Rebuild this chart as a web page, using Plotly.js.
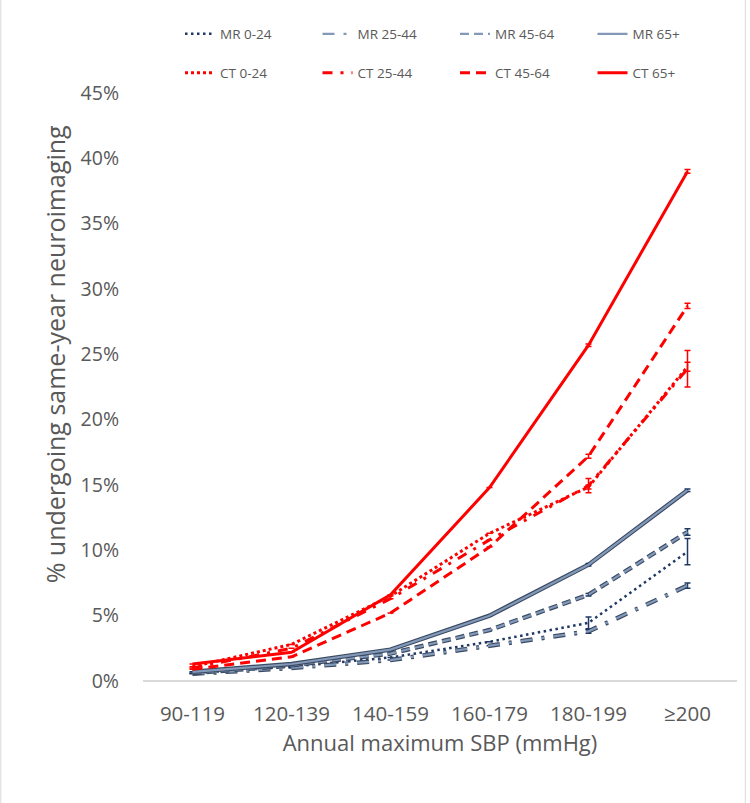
<!DOCTYPE html>
<html>
<head>
<meta charset="utf-8">
<script src="https://cdn.plot.ly/plotly-3.0.1.min.js"></script>
<style>html,body{margin:0;padding:0;background:#fff;}#chart{width:750px;height:803px;}</style>
</head>
<body>
<div id="chart"></div>
<script>
// ---- data ----
var categories = ["90-119", "120-139", "140-159", "160-179", "180-199", "≥200"];
var yTickVals = [0, 5, 10, 15, 20, 25, 30, 35, 40, 45];
var yTickText = ["0%", "5%", "10%", "15%", "20%", "25%", "30%", "35%", "40%", "45%"];
var xTitle = "Annual maximum SBP (mmHg)";
var yTitle = "% undergoing same-year neuroimaging";

var mr0_24  = [0.6, 1.1, 1.8, 3.0, 4.45, 9.9];
var mr25_44 = [0.55, 1.0, 1.6, 2.7, 3.8, 7.3];
var mr45_64 = [0.6, 1.2, 2.1, 3.9, 6.6, 11.4];
var mr65    = [0.7, 1.3, 2.4, 5.0, 8.9, 14.6];
var ct0_24  = [1.1, 2.8, 6.5, 11.3, 14.85, 24.05];
var ct25_44 = [1.0, 2.5, 6.3, 10.8, 14.95, 23.9];
var ct45_64 = [0.9, 1.85, 5.2, 10.25, 17.2, 28.7];
var ct65    = [1.3, 2.2, 6.6, 14.8, 25.7, 39.0];

var mr0_24Err  = [0, 0, 0, 0, 0.45, 1.0];
var mr25_44Err = [0, 0, 0, 0, 0.15, 0.2];
var mr45_64Err = [0, 0, 0, 0, 0.1, 0.25];
var mr65Err    = [0, 0, 0, 0, 0.1, 0.1];
var ct0_24Err  = [0, 0, 0, 0, 0.15, 0.35];
var ct25_44Err = [0, 0, 0, 0, 0.55, 1.4];
var ct45_64Err = [0, 0, 0, 0, 0.15, 0.2];
var ct65Err    = [0, 0, 0, 0, 0.1, 0.15];

// ---- styles ----
var NAVY = "#1f3864", OUTLINE = "#3b4a63", FILL = "#8399b8", RED = "#ff0000";
var DASH_MR25 = "12px,9px,3px,9px";
var DASH_MR45 = "9px,5px";
var DASH_CT25 = "10px,8px,3px,8px";

function err(arr, color) {
  return {type: "data", array: arr, visible: true, color: color, thickness: 1.5, width: 3};
}
function simple(name, y, e, color, dash, width, legend) {
  return {x: categories, y: y, name: name, type: "scatter", mode: "lines",
    line: {color: color, width: width, dash: dash}, error_y: err(e, color), legend: legend};
}
function doubleLine(name, y, e, dash, legend) {
  return [
    {x: categories, y: y, name: name, type: "scatter", mode: "lines", showlegend: false,
      hoverinfo: "skip", line: {color: OUTLINE, width: 4.5, dash: dash}},
    {x: categories, y: y, name: name, type: "scatter", mode: "lines", legend: legend,
      line: {color: FILL, width: 2.2, dash: dash}, error_y: err(e, NAVY)}
  ];
}

var traces = [].concat(
  [simple("MR 0-24", mr0_24, mr0_24Err, NAVY, "2.5px,3.5px", 2.5, "legend")],
  doubleLine("MR 25-44", mr25_44, mr25_44Err, DASH_MR25, "legend2"),
  doubleLine("MR 45-64", mr45_64, mr45_64Err, DASH_MR45, "legend3"),
  doubleLine("MR 65+", mr65, mr65Err, "solid", "legend4"),
  [simple("CT 0-24", ct0_24, ct0_24Err, RED, "3px,3px", 3, "legend5"),
   simple("CT 25-44", ct25_44, ct25_44Err, RED, DASH_CT25, 3, "legend6"),
   simple("CT 45-64", ct45_64, ct45_64Err, RED, "10px,6px", 3, "legend7"),
   simple("CT 65+", ct65, ct65Err, RED, "solid", 3, "legend8")]
);

var FONT = "Open Sans, Noto Sans, sans-serif";
var GREY = "#595959";
function legendCfg(xPix, yPix) {
  return {orientation: "h", xref: "container", yref: "container",
    x: xPix / 750, y: 1 - yPix / 803, xanchor: "left", yanchor: "middle",
    font: {family: FONT, size: 13.5, color: GREY}, bgcolor: "rgba(0,0,0,0)"};
}
var legendCols = [180, 317.5, 455, 592.5];
var legendRows = [34, 73];

var M = {l: 142.7, r: 13.3, t: 93, b: 122};
var plotW = 750 - M.l - M.r, plotH = 803 - M.t - M.b;

var layout = {
  width: 750, height: 803,
  margin: M,
  paper_bgcolor: "#fff", plot_bgcolor: "#fff",
  font: {family: FONT, color: GREY},
  showlegend: true,
  xaxis: {type: "category", range: [-0.5, 5.5], showgrid: false, zeroline: false,
    showline: false, ticks: "", ticklabelstandoff: 18,
    tickfont: {family: FONT, size: 20.5, color: GREY},
    title: {text: xTitle, font: {family: FONT, size: 22, color: GREY}, standoff: 10},
    fixedrange: true},
  yaxis: {range: [0, 45], tickvals: yTickVals, ticktext: yTickText, showgrid: false,
    zeroline: true, zerolinecolor: "#d9d9d9", zerolinewidth: 1.5, showline: false, ticks: "",
    ticklabelstandoff: 23,
    tickfont: {family: FONT, size: 19.5, color: GREY},
    fixedrange: true},
  annotations: [
    {text: yTitle, textangle: -90, showarrow: false, xref: "paper", yref: "paper",
      x: (55 - M.l) / plotW, y: (803 - M.b - 354) / plotH, xanchor: "center", yanchor: "middle",
      font: {family: FONT, size: 25, color: GREY}}
  ],
  shapes: [
    {type: "line", xref: "paper", yref: "paper", x0: (745 - M.l) / plotW, x1: (745 - M.l) / plotW, y0: -0.3, y1: 1.2,
      line: {color: "#d9d9d9", width: 1}},
    {type: "line", xref: "paper", yref: "paper", x0: (0.5 - M.l) / plotW, x1: (0.5 - M.l) / plotW, y0: -0.3, y1: 1.2,
      line: {color: "#d9d9d9", width: 1}}
  ]
};
var legendNames = ["legend", "legend2", "legend3", "legend4", "legend5", "legend6", "legend7", "legend8"];
legendNames.forEach(function (ln, i) {
  layout[ln] = legendCfg(legendCols[i % 4], legendRows[Math.floor(i / 4)]);
});

Plotly.newPlot("chart", traces, layout, {displayModeBar: false, staticPlot: true});
</script>
</body>
</html>
